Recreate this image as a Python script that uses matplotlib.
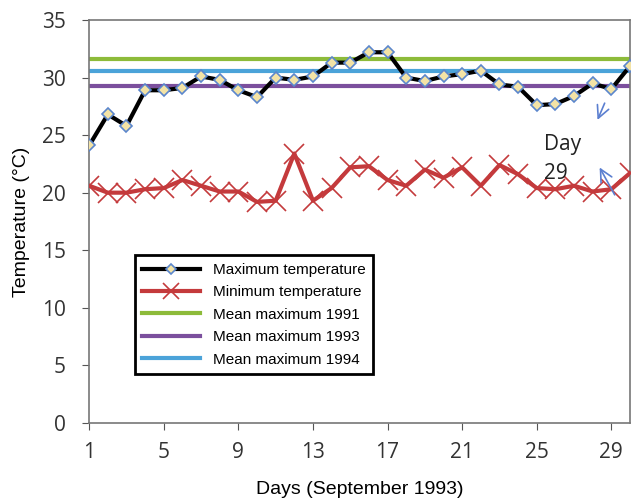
import matplotlib.pyplot as plt
import numpy as np

# Daily temperatures, September 1993
days = np.arange(1, 31)
max_temp = [24.1, 26.8, 25.8, 28.9, 28.9, 29.1, 30.1, 29.8, 28.9, 28.3,
            30.0, 29.8, 30.1, 31.3, 31.3, 32.2, 32.2, 30.0, 29.7, 30.1,
            30.3, 30.6, 29.4, 29.2, 27.6, 27.7, 28.4, 29.5, 29.0, 31.0]
min_temp = [20.6, 20.0, 20.0, 20.3, 20.4, 21.1, 20.6, 20.1, 20.1, 19.2,
            19.3, 23.4, 19.3, 20.4, 22.2, 22.3, 21.1, 20.6, 22.0, 21.3,
            22.2, 20.6, 22.4, 21.6, 20.4, 20.3, 20.6, 20.1, 20.3, 21.7]
mean_1991 = 31.6
mean_1993 = 29.3
mean_1994 = 30.6
xticks = [1, 5, 9, 13, 17, 21, 25, 29]
yticks = [0, 5, 10, 15, 20, 25, 30, 35]

plt.rcParams['font.family'] = ['Liberation Sans', 'DejaVu Sans']

fig = plt.figure(figsize=(6.37, 5.01), dpi=100)
ax = fig.add_axes([0.14, 0.156, 0.849, 0.804])

# Mean maximum lines
ax.plot([1, 30], [mean_1991] * 2, color='#8dbb3a', lw=3, label='Mean maximum 1991', zorder=2)
ax.plot([1, 30], [mean_1993] * 2, color='#7b4f9d', lw=3, label='Mean maximum 1993', zorder=2)
ax.plot([1, 30], [mean_1994] * 2, color='#4ba3d9', lw=3, label='Mean maximum 1994', zorder=2)

# Daily max / min
ax.plot(days, min_temp, color='#c43a3c', lw=3, marker='x', ms=15, mew=1.2,
        label='Minimum temperature', zorder=3)
ax.plot(days, max_temp, color='black', lw=3, marker='D', ms=6.5,
        mfc='#f3e3a6', mec='#5b86cc', mew=1.2, label='Maximum temperature', zorder=4)

# Day 29 annotation
ax.text(25.4, 24.2, 'Day', fontsize=15, family=['Open Sans', 'DejaVu Sans'],
        va='center', ha='left', color='#222222', zorder=5)
ax.text(25.4, 21.7, '29', fontsize=15, family=['Open Sans', 'DejaVu Sans'],
        va='center', ha='left', color='#222222', zorder=5)
arrow_kw = dict(arrowstyle='->', color='#5b7fd0', lw=1.2, mutation_scale=22)
ax.annotate('', xy=(28.2, 26.1), xytext=(28.7, 28.0), arrowprops=arrow_kw, zorder=5)
ax.annotate('', xy=(28.3, 22.4), xytext=(29.25, 19.6), arrowprops=arrow_kw, zorder=5)

ax.set_xlim(1, 30)
ax.set_ylim(0, 35)
ax.set_xticks(xticks)
ax.set_yticks(yticks)
ax.tick_params(labelsize=15, length=5, color='#555555')
ax.tick_params(axis='y', pad=12)
ax.tick_params(axis='x', pad=9)
for lab in ax.get_xticklabels() + ax.get_yticklabels():
    lab.set_family(['Open Sans', 'DejaVu Sans'])
    lab.set_color('#333333')
for sp in ax.spines.values():
    sp.set_color('#777777')
    sp.set_linewidth(1.2)

ax.set_xlabel('Days (September 1993)', fontsize=14, labelpad=13)
ax.set_ylabel('Temperature (\u00b0C)', fontsize=14, labelpad=8)

handles, labels = ax.get_legend_handles_labels()
order = [4, 3, 0, 1, 2]
leg = ax.legend([handles[i] for i in order], [labels[i] for i in order],
                loc='upper left', bbox_to_anchor=(0.07, 0.435), fontsize=11,
                frameon=True, fancybox=False, edgecolor='black', framealpha=1,
                handlelength=3.8, labelspacing=0.55, borderpad=0.5, markerscale=0.8)
leg.get_frame().set_linewidth(2)

fig.savefig('out.png', dpi=100)
